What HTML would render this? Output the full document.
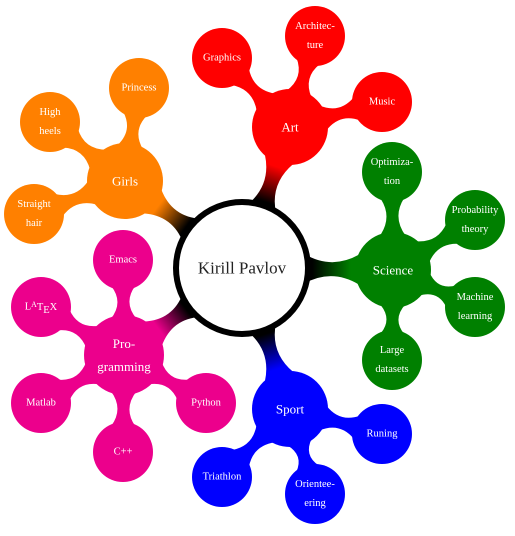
<!DOCTYPE html>
<html><head><meta charset="utf-8"><style>
html,body{margin:0;padding:0;background:#fff;width:515px;height:536px;overflow:hidden}
svg text{font-family:"Liberation Serif",serif;text-anchor:middle;dominant-baseline:central}
</style></head><body>
<svg id="map" width="515" height="536" viewBox="0 0 515 536" xmlns="http://www.w3.org/2000/svg">
<defs id="defs"></defs>
<g id="edges"></g>
<g id="nodes"></g>
</svg>
<script>
const root = {x:242, y:268, r:66, label:["Kirill Pavlov"]};
const branchNames = ["Art","Science","Sport","Programming","Girls"];
const branchColors = ["#ff0000","#008000","#0000ff","#ec008c","#ff8000"];
const branchPos = [[290,127],[393,270],[290,409],[124,355],[125,181]];
const branchLabels = [["Art"],["Science"],["Sport"],["Pro-","gramming"],["Girls"]];
const childLabels = [
 [["Graphics"],["Architec-","ture"],["Music"]],
 [["Optimiza-","tion"],["Probability","theory"],["Machine","learning"],["Large","datasets"]],
 [["Runing"],["Orientee-","ering"],["Triathlon"]],
 [["Emacs"],["LaTeX"],["Matlab"],["C++"],["Python"]],
 [["Princess"],["High","heels"],["Straight","hair"]]
];
const childPos = [
 [[222,58],[315,36],[382,102]],
 [[392,172],[475,220],[475,307],[392,360]],
 [[382,434],[315,494],[222,477]],
 [[123,260],[41,307],[41,403],[123,452],[206,403]],
 [[139,88],[50,122],[34,214]]
];
const NS="http://www.w3.org/2000/svg";
const defs=document.getElementById('defs'),E=document.getElementById('edges'),N=document.getElementById('nodes');
function mk(t,a,p){const e=document.createElementNS(NS,t);for(const k in a)e.setAttribute(k,a[k]);p.appendChild(e);return e;}
function edge(x1,y1,r1,x2,y2,r2,c1,c2,h1,h2,wm,id){
  const dx=x2-x1,dy=y2-y1,L=Math.hypot(dx,dy),ux=dx/L,uy=dy/L,nx=-uy,ny=ux;
  const ax=x1+ux*(r1-4),ay=y1+uy*(r1-4),bx=x2-ux*(r2-4),by=y2-uy*(r2-4);
  const mx=(ax+bx)/2,my=(ay+by)/2,c=2*wm-(h1+h2)/2;
  const d='M'+(ax+nx*h1)+','+(ay+ny*h1)+' Q'+(mx+nx*c)+','+(my+ny*c)+' '+(bx+nx*h2)+','+(by+ny*h2)+
    ' L'+(bx-nx*h2)+','+(by-ny*h2)+' Q'+(mx-nx*c)+','+(my-ny*c)+' '+(ax-nx*h1)+','+(ay-ny*h1)+' Z';
  const g=mk('linearGradient',{id:id,gradientUnits:'userSpaceOnUse',x1:ax,y1:ay,x2:bx,y2:by},defs);
  mk('stop',{offset:'0.15','stop-color':c1},g);mk('stop',{offset:'0.85','stop-color':c2},g);
  const p=mk('path',{d:d,fill:'url(#'+id+')'},E);
  
  
}
function textLines(x,y,lines,size,fill,name){
  const lh=size*1.8;
  lines.forEach((s,i)=>{
    const t=mk('text',{x:x,y:y+(i-(lines.length-1)/2)*lh,'font-size':size,fill:fill},N);
    if(s==="LaTeX"){t.innerHTML='L<tspan font-size="'+(size*0.75)+'" dy="-3">A</tspan><tspan dy="3">T</tspan><tspan dy="3">E</tspan><tspan dy="-3">X</tspan>';}
    else t.textContent=s;
    
    
  });
}
branchNames.forEach((b,i)=>{
  const [bx,by]=branchPos[i];
  const br=(i===3?40:38);
  edge(root.x,root.y,root.r,bx,by,br,'#000',branchColors[i],15,15,7,'e'+i);
  childPos[i].forEach((p,j)=>{
    edge(bx,by,br,p[0],p[1],30,branchColors[i],branchColors[i],13,12,6,'e'+i+'_'+j);
  });
});
const rc=mk('circle',{cx:root.x,cy:root.y,r:root.r,fill:'#fff',stroke:'#000','stroke-width':6},N);


textLines(root.x,root.y,root.label,17,'#222','root');
branchNames.forEach((b,i)=>{
  const [bx,by]=branchPos[i];
  const c=mk('circle',{cx:bx,cy:by,r:(i===3?40:38),fill:branchColors[i]},N);
  
  
  textLines(bx,by,branchLabels[i],13,'#fff',b.toLowerCase());
  childPos[i].forEach((p,j)=>{
    const cc=mk('circle',{cx:p[0],cy:p[1],r:30,fill:branchColors[i]},N);
    
    
    textLines(p[0],p[1],childLabels[i][j],10.5,'#fff',childLabels[i][j].join('').toLowerCase().replace(/[^a-z+]/g,''));
  });
});
</script>
</body></html>
